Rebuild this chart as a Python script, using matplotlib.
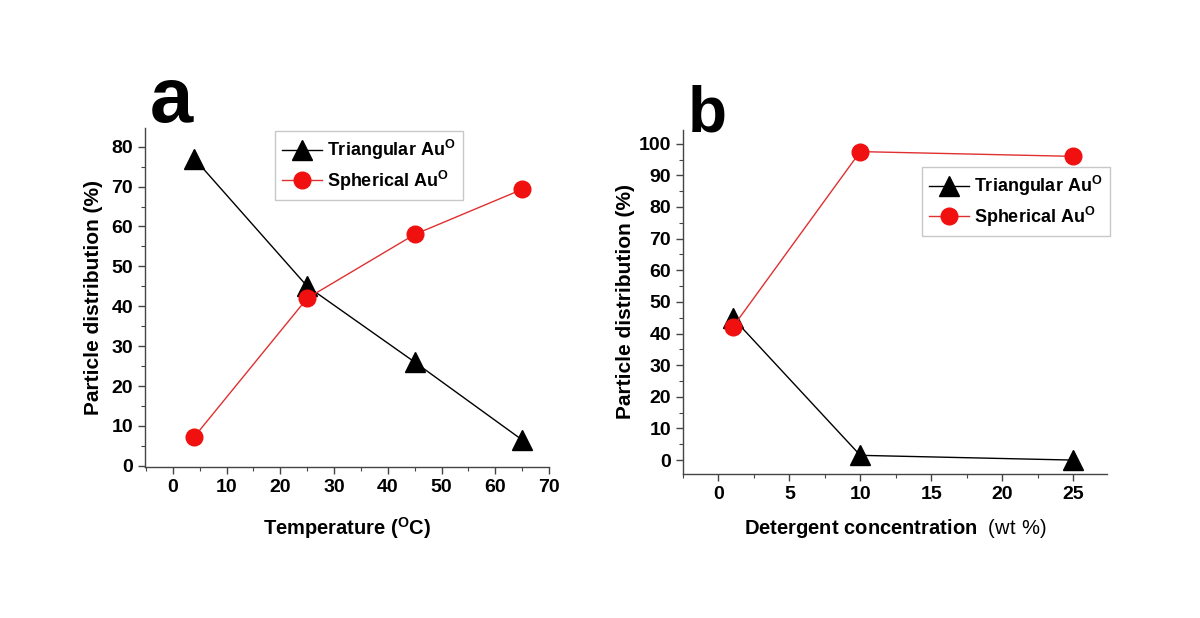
import matplotlib
matplotlib.use("Agg")
import matplotlib.pyplot as plt
from matplotlib.ticker import MultipleLocator

plt.rcParams['font.family'] = ['Liberation Sans', 'DejaVu Sans']
plt.rcParams['mathtext.fontset'] = 'custom'
plt.rcParams['mathtext.rm'] = 'Liberation Sans'
plt.rcParams['mathtext.bf'] = 'Liberation Sans:bold'

# Panel a data
temp = [4, 25, 45, 65]
tri_a = [77, 45, 26, 6.5]
sph_a = [7.3, 42, 58, 69.3]

# Panel b data
conc = [1, 10, 25]
tri_b = [45, 1.5, 0]
sph_b = [42, 97.5, 96]

xticks_a = [0, 10, 20, 30, 40, 50, 60, 70]
yticks_a = [0, 10, 20, 30, 40, 50, 60, 70, 80]
xticks_b = [0, 5, 10, 15, 20, 25]
yticks_b = [0, 10, 20, 30, 40, 50, 60, 70, 80, 90, 100]

fig = plt.figure(figsize=(12, 6.18), dpi=100)
ax1 = fig.add_axes([0.1208, 0.2443, 0.3367, 0.5487])
ax2 = fig.add_axes([0.5692, 0.2330, 0.3533, 0.5570])

lab_tri = r'Triangular Au$\mathbf{^{O}}$'
lab_sph = r'Spherical Au$\mathbf{^{O}}$'

def style(ax, xt, yt, xminor, yminor):
    for s in ['top', 'right']:
        ax.spines[s].set_visible(False)
    for s in ['left', 'bottom']:
        ax.spines[s].set_color('#444444')
        ax.spines[s].set_linewidth(1.0)
    ax.set_xticks(xt)
    ax.set_yticks(yt)
    ax.xaxis.set_minor_locator(MultipleLocator(xminor))
    ax.yaxis.set_minor_locator(MultipleLocator(yminor))
    ax.tick_params(which='major', direction='out', length=5, width=1, color='#444444',
                   labelsize=14)
    ax.tick_params(which='minor', direction='out', length=3, width=0.8, color='#444444')
    for lbl in ax.get_xticklabels() + ax.get_yticklabels():
        lbl.set_fontweight('bold')

def legend(ax, x, y):
    leg = ax.legend(loc='upper left', bbox_to_anchor=(x / 1200, 1 - y / 618),
                    bbox_transform=fig.transFigure, frameon=True, fancybox=False,
                    edgecolor='#bbbbbb', handlelength=2.2, borderpad=0.4, labelspacing=0.35,
                    handletextpad=0.3, borderaxespad=0, prop={'weight': 'bold', 'size': 13})
    leg.get_frame().set_linewidth(1.0)
    return leg

# Panel a
ax1.plot(temp, tri_a, color='black', lw=1, marker='^', ms=14, mfc='black', mec='black',
         label=lab_tri)
ax1.plot(temp, sph_a, color='#e03030', lw=1, marker='o', ms=12, mfc='#f01010', mec='#f01010',
         label=lab_sph)
ax1.set_xlim(-5.2, 70)
ax1.set_ylim(-0.3, 84.7)
style(ax1, xticks_a, yticks_a, 5, 5)
ax1.set_ylabel('Particle distribution (%)', fontsize=15, fontweight='bold', labelpad=6)
ax1.set_xlabel(r'Temperature ($\mathbf{^{O}}$C)', fontsize=14.5, fontweight='bold', labelpad=14)
legend(ax1, 275, 131)

# Panel b
ax2.plot(conc, tri_b, color='black', lw=1, marker='^', ms=14, mfc='black', mec='black',
         label=lab_tri)
ax2.plot(conc, sph_b, color='#e03030', lw=1, marker='o', ms=12, mfc='#f01010', mec='#f01010',
         label=lab_sph)
ax2.set_xlim(-2.5, 27.4)
ax2.set_ylim(-4.4, 104.4)
style(ax2, xticks_b, yticks_b, 2.5, 5)
ax2.set_ylabel('Particle distribution (%)', fontsize=15, fontweight='bold', labelpad=3)
ax2.set_xlabel(r'Detergent concentration  $\mathrm{(wt\ \%)}$', fontsize=14.5,
               fontweight='bold', labelpad=10)
legend(ax2, 922, 167)

fig.text(150/1200, 1 - 122/618, 'a', fontsize=56, fontweight='bold', ha='left', va='baseline')
fig.text(688/1200, 1 - 132/618, 'b', fontsize=46, fontweight='bold', ha='left', va='baseline')

fig.savefig('out.png', dpi=100, facecolor='white')
